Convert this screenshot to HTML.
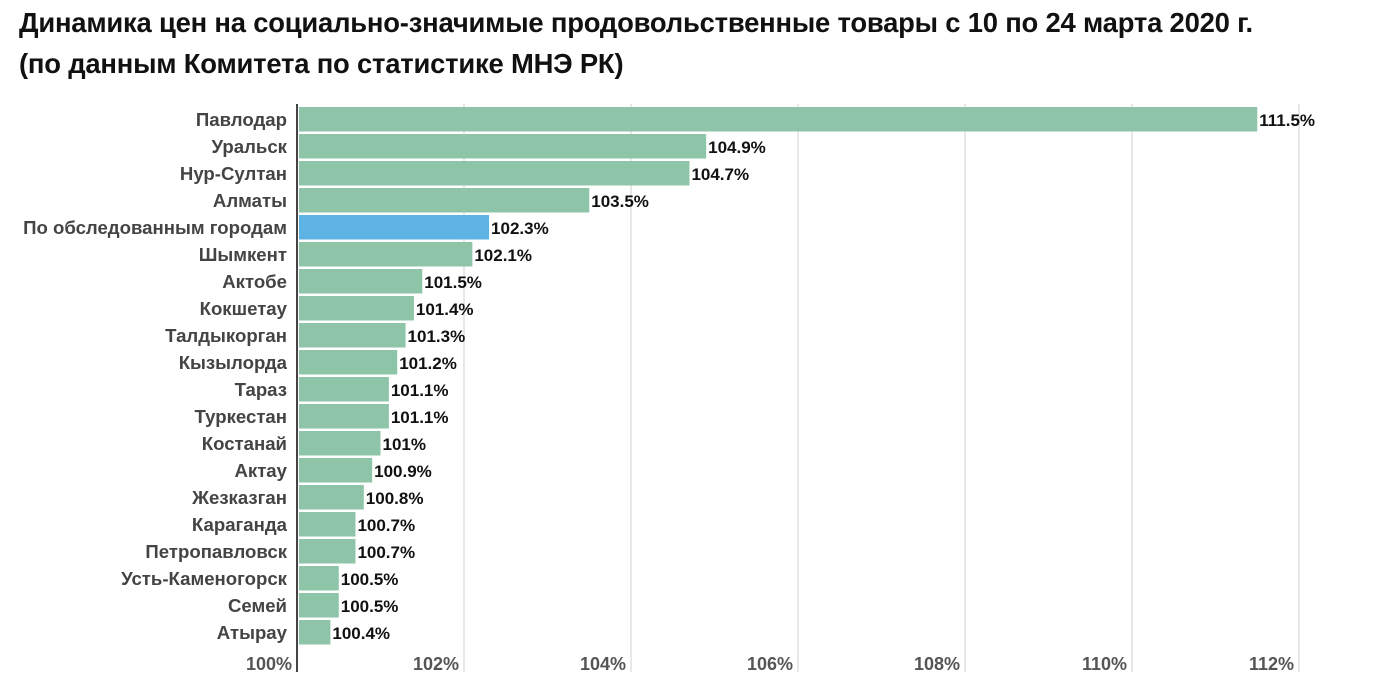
<!DOCTYPE html>
<html><head><meta charset="utf-8"><style>
body{margin:0;background:#fff;width:1392px;height:685px;overflow:hidden;font-family:"Liberation Sans",sans-serif}
.t{position:absolute;left:19px;font-weight:bold;font-size:27.4px;color:#111;letter-spacing:-0.2px;white-space:nowrap}
</style></head><body>
<div class="t" style="top:7px">Динамика цен на социально-значимые продовольственные товары с 10 по 24 марта 2020 г.</div>
<div class="t" style="top:48px">(по данным Комитета по статистике МНЭ РК)</div>
<svg id="c" width="1392" height="685" style="position:absolute;left:0;top:0"></svg>
<script>
const categories=["Павлодар","Уральск","Нур-Султан","Алматы","По обследованным городам","Шымкент","Актобе","Кокшетау","Талдыкорган","Кызылорда","Тараз","Туркестан","Костанай","Актау","Жезказган","Караганда","Петропавловск","Усть-Каменогорск","Семей","Атырау"];
const values=[111.5,104.9,104.7,103.5,102.3,102.1,101.5,101.4,101.3,101.2,101.1,101.1,101,100.9,100.8,100.7,100.7,100.5,100.5,100.4];
const valueLabels=["111.5%","104.9%","104.7%","103.5%","102.3%","102.1%","101.5%","101.4%","101.3%","101.2%","101.1%","101.1%","101%","100.9%","100.8%","100.7%","100.7%","100.5%","100.5%","100.4%"];
const ticks=[100,102,104,106,108,110,112];
const tickLabels=["100%","102%","104%","106%","108%","110%","112%"];
const highlight="По обследованным городам";
const svg=document.getElementById('c');const NS="http://www.w3.org/2000/svg";
const x=v=>297+(v-100)*83.5;
const y=i=>107+i*27;
function mk(t,a){const e=document.createElementNS(NS,t);for(const k in a)e.setAttribute(k,a[k]);svg.appendChild(e);return e;}
ticks.forEach((t,i)=>{
 if(i>0){const g=mk('line',{x1:x(t),x2:x(t),y1:104,y2:672,stroke:'#e0e0e0','stroke-width':1.5});
 
 }
 const tl=mk('text',{x:x(t)-5,y:670,'text-anchor':'end','font-size':18,'font-weight':'bold',fill:'#555'});
 tl.textContent=tickLabels[i];
 
 
});
categories.forEach((c,i)=>{
 const b=mk('rect',{x:299,y:y(i),width:x(values[i])-299,height:24.5,fill:c===highlight?'#5db3e3':'#8ec4a8'});
 
 
 const l=mk('text',{x:287,y:y(i)+19,'text-anchor':'end','font-size':18.6,'font-weight':'bold',fill:'#444'});
 l.textContent=c;
 
 
 const v=mk('text',{x:x(values[i])+2,y:y(i)+19,'font-size':17,'font-weight':'bold',fill:'#111'});
 v.textContent=valueLabels[i];
 
 
});
const ax=mk('line',{x1:297,x2:297,y1:104,y2:672,stroke:'#444','stroke-width':2});


</script>
</body></html>
